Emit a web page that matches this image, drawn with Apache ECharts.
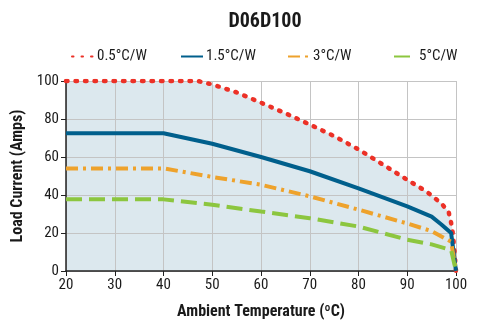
<!DOCTYPE html>
<html><head><meta charset="utf-8">
<script src="https://cdn.jsdelivr.net/npm/echarts@6/dist/echarts.min.js"></script>
<style>html,body{margin:0;padding:0;background:#fff}#c{width:478px;height:320px}</style>
</head><body><div id="c"></div>
<script>
const title = 'D06D100';
const seriesNames = ['0.5°C/W', '1.5°C/W', '3°C/W', '5°C/W'];
const xTicks = [20, 30, 40, 50, 60, 70, 80, 90, 100];
const yTicks = [0, 20, 40, 60, 80, 100];

const tempRed = [20, 30, 40, 47, 50, 55, 60, 65, 70, 75, 80, 85, 90, 94, 97, 98.5, 99.2, 99.6, 100];
const ampRed  = [100, 100, 100, 100, 98.2, 94, 88.6, 83, 77.1, 71, 64, 56, 48, 41.7, 35.6, 31, 23, 13, 0];

const tempBlue = [20, 40, 50, 60, 70, 80, 90, 95, 97, 99, 100];
const ampBlue  = [72.5, 72.5, 67, 60, 52.5, 43.5, 34, 28.6, 24.5, 20, 0];

const tempOrange = [20, 40, 50, 60, 70, 80, 90, 95, 99, 100];
const ampOrange  = [54, 54, 49.5, 45.4, 39.3, 32.3, 25, 21, 15.4, 0];

const tempGreen = [20, 40, 50, 60, 70, 80, 90, 95, 99, 100];
const ampGreen  = [37.7, 37.7, 34.9, 31.3, 27.8, 23.4, 16.5, 14, 11, 0];

const FONT = '"Liberation Sans Narrow", "Roboto Condensed", Roboto, sans-serif';
const pairs = (xs, ys) => xs.map((x, i) => [x, ys[i]]);
const colors = ['#ec3127', '#005f8c', '#eea22c', '#8cc63f'];
const styles = [
  {type: [1.5, 8], width: 4.5, cap: 'round'},
  {type: 'solid', width: 4},
  {type: [12, 5, 3, 5], width: 4},
  {type: [16, 7], width: 4}
];
const datasets = [pairs(tempRed, ampRed), pairs(tempBlue, ampBlue), pairs(tempOrange, ampOrange), pairs(tempGreen, ampGreen)];
const legendLeft = [66, 175, 282, 388];

const chart = echarts.init(document.getElementById('c'), null, {renderer: 'canvas'});
const series = [{
  name: '_area', type: 'line', data: datasets[0], symbol: 'none', z: 1,
  lineStyle: {width: 0, opacity: 0}, areaStyle: {color: '#dce8ee', opacity: 1},
  silent: true, legendHoverLink: false
}];
seriesNames.forEach((n, i) => series.push({
  name: n, type: 'line', data: datasets[i], symbol: 'none', z: 3,
  color: colors[i],
  lineStyle: Object.assign({color: colors[i]}, styles[i])
}));

chart.setOption({
  animation: false,
  title: {text: title, left: 260, top: 7, textAlign: 'center',
    textStyle: {fontFamily: FONT, fontWeight: 'bold', fontSize: 20, color: '#1a1a1a'}},
  legend: seriesNames.map((n, i) => ({
    data: [n], left: legendLeft[i], top: 44, itemWidth: 22, itemHeight: 6, itemGap: 4,
    itemStyle: {opacity: 0},
    textStyle: {fontFamily: FONT, fontSize: 15, color: '#1a1a1a', padding: [0, 0, 0, -2]},
    selectedMode: false
  })),
  grid: {left: 66, right: 22, top: 81, bottom: 49, outerBoundsMode: 'none', containLabel: false},
  xAxis: {
    type: 'value', min: 20, max: 100, interval: 10, z: 2,
    name: 'Ambient Temperature (ºC)', nameLocation: 'middle', nameGap: 33,
    nameTextStyle: {fontFamily: FONT, fontWeight: 'bold', fontSize: 16, color: '#1a1a1a'},
    axisLine: {lineStyle: {color: '#222', width: 1.5}},
    axisTick: {length: 5, lineStyle: {color: '#222'}},
    axisLabel: {fontFamily: FONT, fontSize: 15, color: '#1a1a1a', margin: 7,
      formatter: v => xTicks.includes(v) ? String(v) : ''},
    splitLine: {show: true, lineStyle: {color: '#c4c4c4', width: 1}}
  },
  yAxis: {
    type: 'value', min: 0, max: 100, interval: 20, z: 2,
    name: 'Load Current (Amps)', nameLocation: 'middle', nameGap: 38,
    nameTextStyle: {fontFamily: FONT, fontWeight: 'bold', fontSize: 16, color: '#1a1a1a'},
    axisLine: {show: true, lineStyle: {color: '#222', width: 1.5}},
    axisTick: {show: true, length: 5, lineStyle: {color: '#222'}},
    axisLabel: {fontFamily: FONT, fontSize: 15, color: '#1a1a1a', margin: 7,
      formatter: v => yTicks.includes(v) ? String(v) : ''},
    splitLine: {show: true, lineStyle: {color: '#c4c4c4', width: 1}}
  },
  series: series
});
</script></body></html>
